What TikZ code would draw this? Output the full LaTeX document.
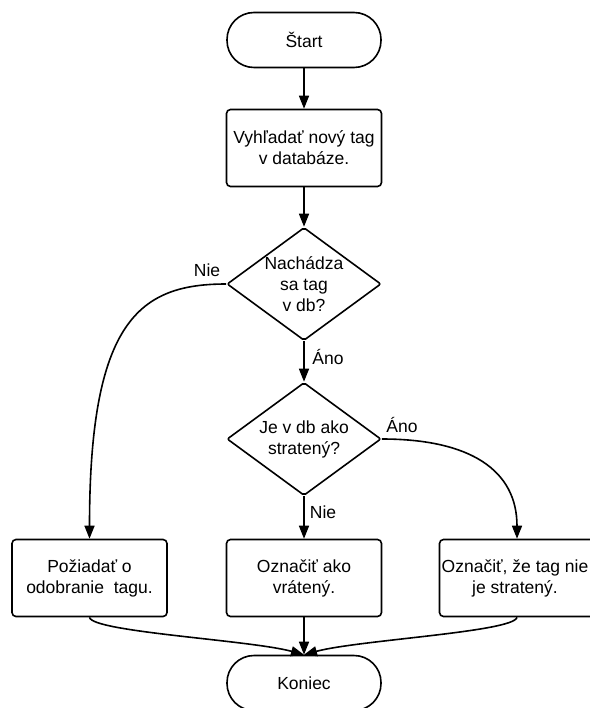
\documentclass[tikz,border=0pt]{standalone}
\usepackage{fontspec}
\setmainfont{Liberation Sans}
\usetikzlibrary{arrows.meta,shapes.geometric}
\begin{document}
\begin{tikzpicture}[x=1pt,y=-1pt,
  every node/.style={font=\fontsize{17.5}{21}\selectfont},
  terminal/.style={draw,line width=1.6pt,rounded corners=27pt,minimum width=154pt,minimum height=55pt,inner sep=0pt},
  process/.style={draw,line width=1.6pt,rounded corners=4pt,minimum width=155pt,minimum height=77pt,inner sep=0pt,align=center},
  decision/.style={draw,line width=1.6pt,diamond,rounded corners=2pt,minimum width=154pt,minimum height=113pt,inner sep=0pt},
  txt/.style={align=center,inner sep=0pt},
  flow/.style={line width=1.6pt,-{Triangle[length=13pt,width=10pt]}}]
\useasboundingbox (0,0) rectangle (589,708);

% nodes
\node[terminal] (start) at (304,40) {Štart};
\node[process] (search) at (304,148) {Vyhľadať nový tag\\v databáze.};
\node[decision] (found) at (304,284) {};
\node[txt] at (found) {Nachádza\\sa tag\\v db?};
\node[decision] (lost) at (304,439) {};
\node[txt] at (lost) {Je v db ako\\stratený?};
\node[process] (remove) at (89.5,578) {Požiadať o\\odobranie\ \ tagu.};
\node[process] (returned) at (304,578) {Označiť ako\\vrátený.};
\node[process] (notlost) at (517,578) {};
\node[txt] at ([xshift=-2pt]notlost) {Označiť, že tag nie\\je stratený.};
\node[terminal] (end) at (304,683) {Koniec};

% branch labels
\node[txt] (lNie1) at (207,270) {Nie};
\node[txt] (lAno1) at (328,357) {Áno};
\node[txt] (lAno2) at (402,425) {Áno};
\node[txt] (lNie2) at (323,512) {Nie};

% connectors
\draw[flow] (start) -- (search);
\draw[flow] (search) -- (found);
\draw[flow] (found) -- (lost);
\draw[flow] (lost) -- (returned);
\draw[flow] (found.west) .. controls (140,284) and (89.5,320) .. (remove.north);
\draw[flow] (lost.east) .. controls (470,439) and (517,470) .. (notlost.north);
\draw[flow] (remove.south) .. controls (92,632) and (250,640) .. (end.north);
\draw[flow] (returned) -- (end);
\draw[flow] (notlost.south) .. controls (514,632) and (358,640) .. (end.north);
\end{tikzpicture}
\end{document}
